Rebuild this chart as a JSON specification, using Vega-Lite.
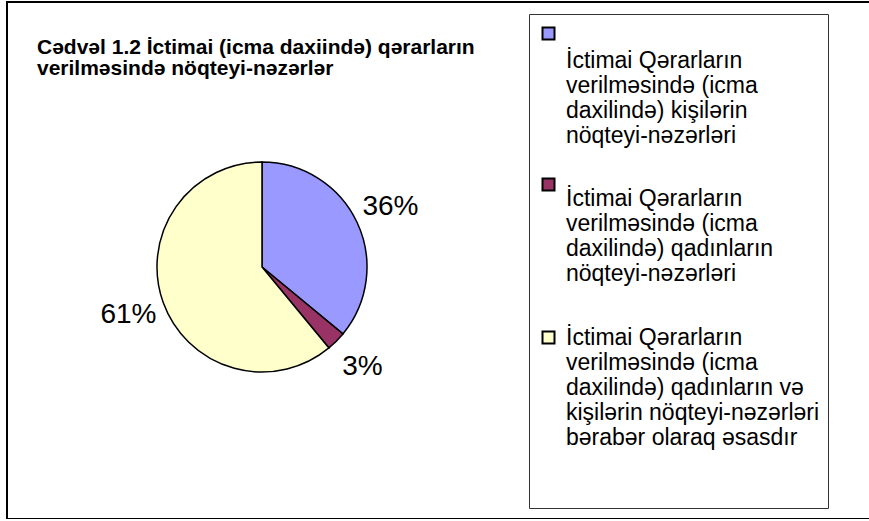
{
  "$schema": "https://vega.github.io/schema/vega-lite/v6.json",
  "width": 880,
  "height": 517,
  "autosize": {"type": "none"},
  "padding": {"left": 7, "top": 2, "right": 0, "bottom": 0},
  "background": "white",
  "view": {"stroke": "black", "strokeWidth": 2, "fill": "white"},
  "title": {
    "text": ["Cədvəl 1.2 İctimai (icma daxiində) qərarların", "verilməsində nöqteyi-nəzərlər"],
    "anchor": "start",
    "frame": "group",
    "orient": "top",
    "offset": -98,
    "dx": 30,
    "baseline": "bottom",
    "font": "Liberation Sans",
    "fontSize": 21,
    "fontWeight": "bold",
    "lineHeight": 21,
    "color": "black"
  },
  "data": {
    "values": [
      {"category": "İctimai Qərarların\nverilməsində (icma\ndaxilində) kişilərin\nnöqteyi-nəzərləri", "value": 0.36, "order": 1},
      {"category": "İctimai Qərarların\nverilməsində (icma\ndaxilində) qadınların\nnöqteyi-nəzərləri", "value": 0.03, "order": 2},
      {"category": "İctimai Qərarların\nverilməsində (icma\ndaxilində) qadınların və\nkişilərin nöqteyi-nəzərləri\nbərabər olaraq əsasdır", "value": 0.61, "order": 3}
    ]
  },
  "layer": [
    {
      "mark": {"type": "arc", "x": 255, "y": 265, "outerRadius": 105, "stroke": "black", "strokeWidth": 1.5},
      "encoding": {
        "theta": {"field": "value", "type": "quantitative", "stack": true},
        "order": {"field": "order", "type": "quantitative"},
        "color": {
          "field": "category",
          "type": "nominal",
          "sort": null,
          "scale": {
            "domain": [
              "İctimai Qərarların\nverilməsində (icma\ndaxilində) kişilərin\nnöqteyi-nəzərləri",
              "İctimai Qərarların\nverilməsində (icma\ndaxilində) qadınların\nnöqteyi-nəzərləri",
              "İctimai Qərarların\nverilməsində (icma\ndaxilində) qadınların və\nkişilərin nöqteyi-nəzərləri\nbərabər olaraq əsasdır"
            ],
            "range": ["#9999FF", "#993366", "#FFFFCC"]
          },
          "legend": {
            "orient": "none",
            "legendX": 522,
            "legendY": 12,
            "title": null,
            "symbolType": "square",
            "symbolSize": 144,
            "symbolStrokeColor": "black",
            "symbolStrokeWidth": 2,
            "symbolOpacity": 1,
            "labelFont": "Liberation Sans",
            "labelFontSize": 23,
            "labelLineHeight": 24.5,
            "labelBaseline": "alphabetic",
            "labelColor": "black",
            "labelLimit": 400,
            "labelOffset": 6,
            "labelExpr": "split((datum.index == 0 ? '' : '\\n') + datum.label + (datum.index == 2 ? '\\n\\n' : ''), '\\n')",
            "padding": 8,
            "rowPadding": 15,
            "strokeColor": "#333333",
            "fillColor": "white",
            "encode": {
              "labels": {
                "update": {"y": {"signal": "datum.index == 0 ? 46 : (datum.index == 1 ? 8.2 : -6)"}}
              }
            }
          }
        }
      }
    },
    {
      "mark": {"type": "text", "x": 255, "y": 265, "radius": 142, "font": "Liberation Sans", "fontSize": 28, "color": "black", "align": "center", "baseline": "middle"},
      "encoding": {
        "theta": {"field": "value", "type": "quantitative", "stack": true},
        "order": {"field": "order", "type": "quantitative"},
        "detail": {"field": "category", "type": "nominal"},
        "text": {"field": "value", "type": "quantitative", "format": ".0%"}
      }
    }
  ],
  "config": {
    "view": {"stroke": "black", "strokeWidth": 2},
    "style": {"cell": {"stroke": "black", "strokeWidth": 2}}
  }
}
